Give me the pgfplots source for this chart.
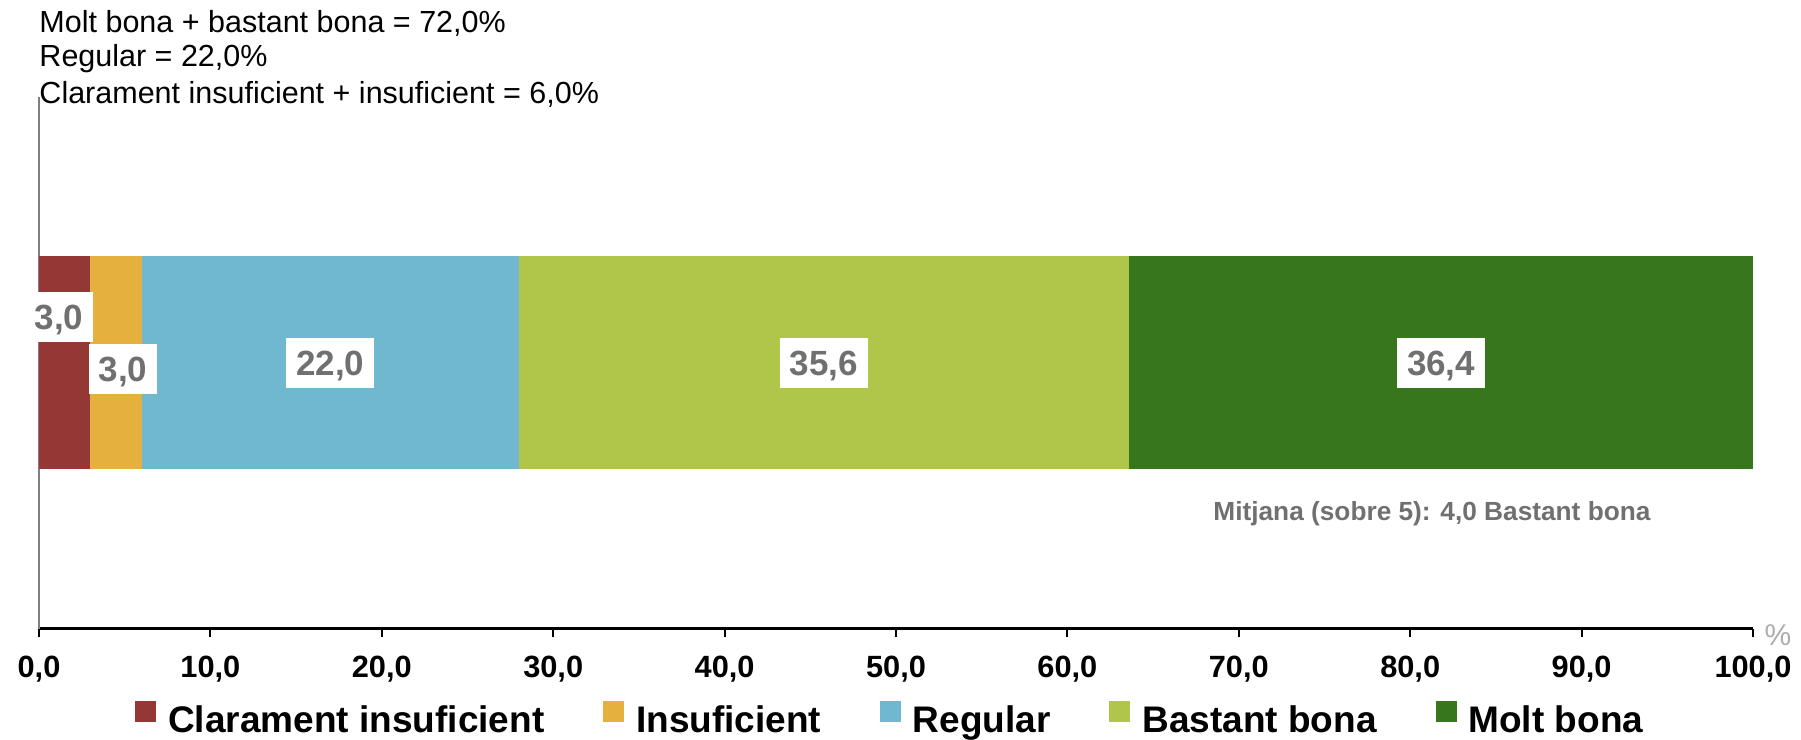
\documentclass[border=0pt]{standalone}
\usepackage{pgfplots}
\pgfplotsset{compat=1.18}
\usepackage{fontspec}
\setmainfont{Liberation Sans}
\definecolor{c1}{RGB}{149,55,53}
\definecolor{c2}{RGB}{230,176,63}
\definecolor{c3}{RGB}{112,184,207}
\definecolor{c4}{RGB}{175,198,75}
\definecolor{c5}{RGB}{56,118,29}
\definecolor{lblgray}{RGB}{112,112,112}
\tikzset{lbl/.style={fill=white, text=lblgray, font=\bfseries\fontsize{14}{14}\selectfont, inner xsep=4pt, inner ysep=5pt, text height=10pt, text depth=0pt}}
\begin{document}
\begin{tikzpicture}
\path[use as bounding box] (0,0) rectangle (720.4pt,296pt);
\begin{axis}[
  at={(15.6pt,44.4pt)}, anchor=south west,
  scale only axis, width=685.6pt, height=212.8pt,
  xbar stacked, bar width=85.2pt,
  xmin=0, xmax=100, ymin=-1, ymax=1,
  clip=false,
  axis x line*=bottom, axis y line*=left,
  x axis line style={black, line width=1.2pt, -},
  y axis line style={gray, line width=0.8pt, -},
  ytick=\empty,
  xtick={0,10,...,100},
  xtick align=outside,
  major tick length=3.4pt,
  xtick style={black, line width=0.8pt},
  /pgf/number format/fixed,
  /pgf/number format/fixed zerofill,
  /pgf/number format/precision=1,
  /pgf/number format/use comma,
  /pgf/number format/assume math mode=true,
  xticklabel style={font=\bfseries\fontsize{12.3}{12.3}\selectfont, anchor=center, yshift=-12.8pt},
  legend image code/.code={\fill[#1] (0pt,-0.8pt) rectangle (8.4pt,7.6pt);},
  legend style={at={(0.4975,0)}, anchor=center, yshift=-36.6pt, draw=none, fill=none,
    font=\bfseries\fontsize{14.8}{14.8}\selectfont,
    /tikz/every even column/.append style={column sep=21.5pt},
    /tikz/every odd column/.append style={column sep=2.8pt}},
  legend columns=5,
]
\addplot[fill=c1, draw=none] coordinates {(3.0,0)};
\addplot[fill=c2, draw=none] coordinates {(3.0,0)};
\addplot[fill=c3, draw=none] coordinates {(22.0,0)};
\addplot[fill=c4, draw=none] coordinates {(35.6,0)};
\addplot[fill=c5, draw=none] coordinates {(36.4,0)};
\legend{Clarament insuficient, Insuficient, Regular, Bastant bona, Molt bona}
\coordinate (l1) at (axis cs:1.17,0.171);
\coordinate (l2) at (axis cs:4.9,-0.021);
\coordinate (l3) at (axis cs:17.0,0);
\coordinate (l4) at (axis cs:45.8,0);
\coordinate (l5) at (axis cs:81.8,0);
\node[anchor=east, text=lblgray, font=\bfseries\fontsize{10.5}{10.5}\selectfont, inner sep=0pt] at (axis cs:94.05,-0.566) {Mitjana (sobre 5): 4,0 Bastant bona};
\node[text=gray!65, font=\fontsize{12}{12}\selectfont, xshift=10pt, yshift=-2.4pt] at (rel axis cs:1,0) {\%};
\node[anchor=base west, inner sep=0pt, font=\fontsize{12.2}{12.2}\selectfont, yshift=25.6pt] at (rel axis cs:0,1) {Molt bona + bastant bona = 72,0\%};
\node[anchor=base west, inner sep=0pt, font=\fontsize{12.2}{12.2}\selectfont, yshift=12pt] at (rel axis cs:0,1) {Regular = 22,0\%};
\node[anchor=base west, inner sep=0pt, font=\fontsize{12.2}{12.2}\selectfont, yshift=-2.6pt] at (rel axis cs:0,1) {Clarament insuficient + insuficient = 6,0\%};
\end{axis}
\node[lbl] at (l1) {3,0};
\node[lbl] at (l2) {3,0};
\node[lbl] at (l3) {22,0};
\node[lbl] at (l4) {35,6};
\node[lbl] at (l5) {36,4};
\end{tikzpicture}
\end{document}
